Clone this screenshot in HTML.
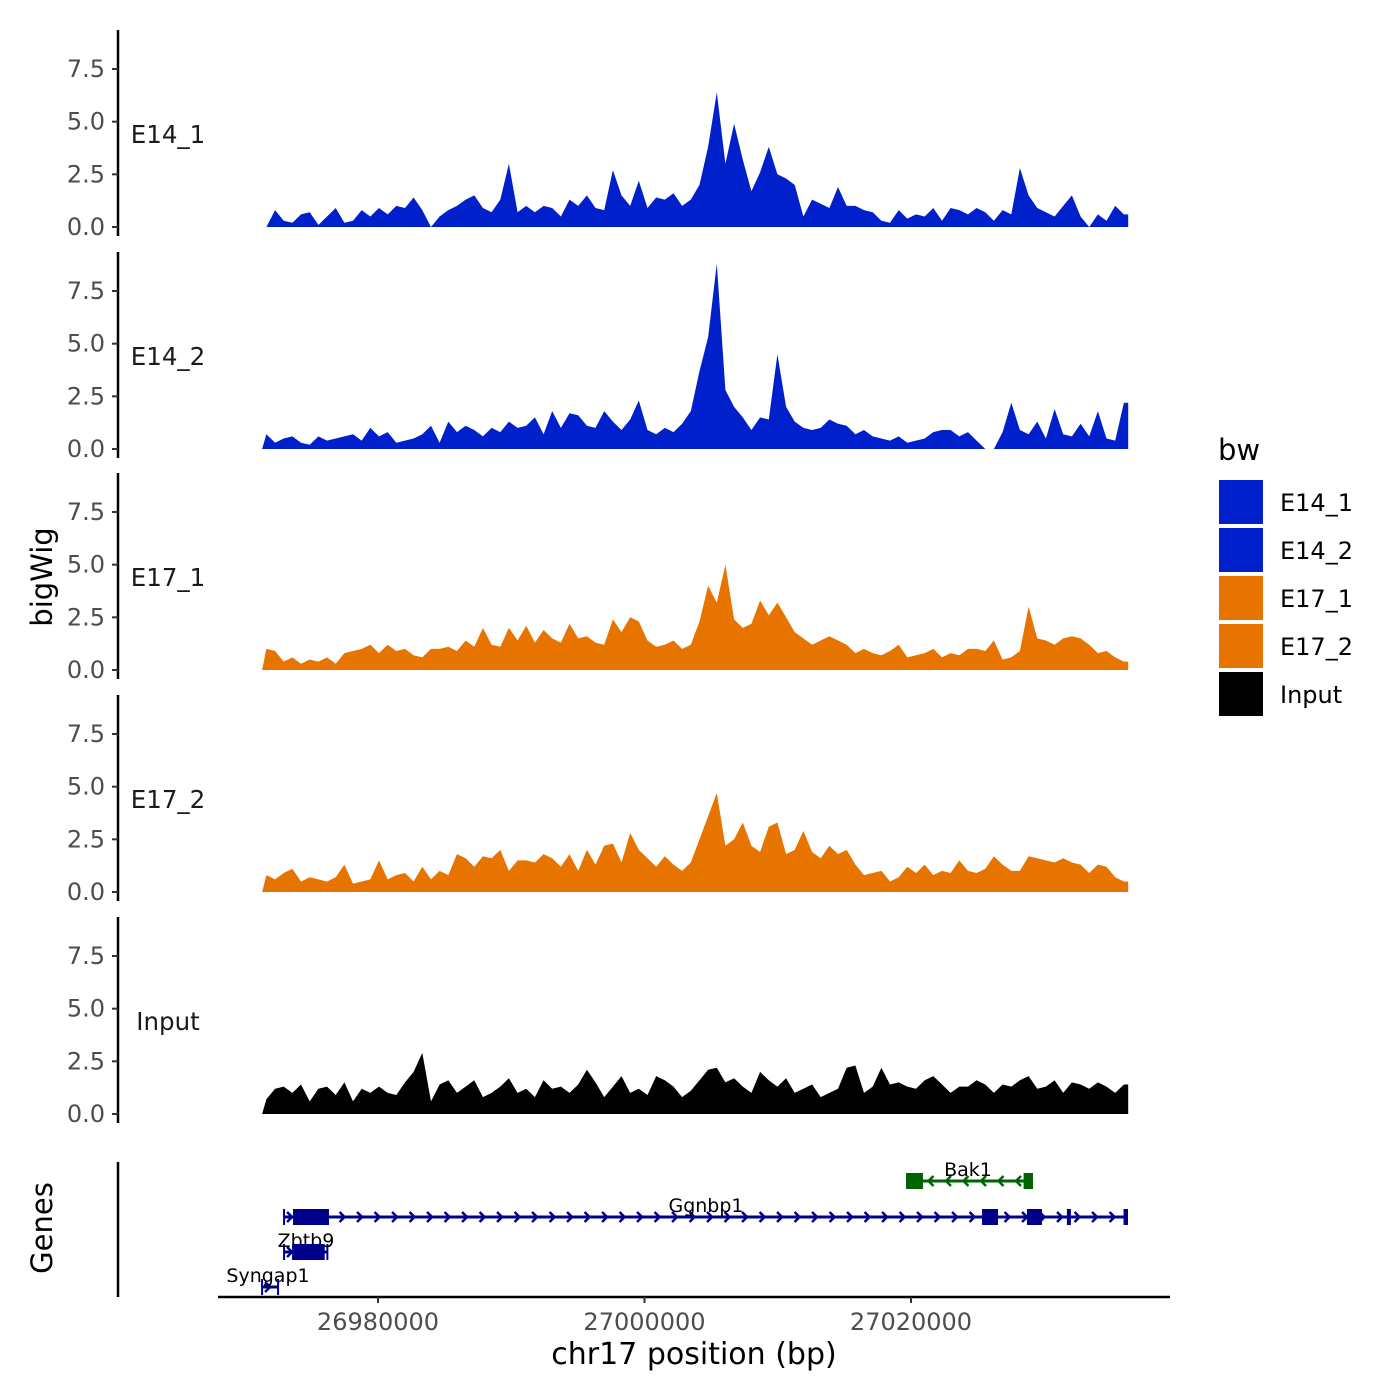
<!DOCTYPE html>
<html><head><meta charset="utf-8">
<style>
html,body{margin:0;padding:0;background:#fff;}
svg{display:block;font-family:"DejaVu Sans","Liberation Sans",sans-serif;}
</style></head>
<body>
<svg id="chart" width="1400" height="1400" viewBox="0 0 1400 1400" xmlns="http://www.w3.org/2000/svg">
<rect x="0" y="0" width="1400" height="1400" fill="#fff"/>
<g id="tracks"></g>
<g id="genes"></g>
<g id="xaxis"></g>
<text x="52" y="577" font-size="29" text-anchor="middle" transform="rotate(-90 52 577)" fill="#000">bigWig</text>
<text x="52" y="1228" font-size="29" text-anchor="middle" transform="rotate(-90 52 1228)" fill="#000">Genes</text>
<text x="694" y="1364" font-size="30" text-anchor="middle" fill="#000">chr17 position (bp)</text>
<g id="legend"></g>
</svg>
<script>
const trackNames = ["E14_1","E14_2","E17_1","E17_2","Input"];
const trackColors = ["#0020cc","#0020cc","#e87400","#e87400","#000000"];
const yTicks = [0, 2.5, 5.0, 7.5];
const yTickLabels = ["0.0","2.5","5.0","7.5"];
const xTicks = [26980000, 27000000, 27020000];
const xTickLabels = ["26980000","27000000","27020000"];
const binStart = 26971300;
const binSize = 650;
const e14_1 = [0,0.8,0.3,0.2,0.6,0.7,0.1,0.5,0.9,0.2, 0.3,0.8,0.5,0.9,0.6,1.0,0.9,1.4,0.8,0.0, 0.5,0.8,1.0,1.3,1.5,0.9,0.7,1.3,3.0,0.7, 1.0,0.7,1.0,0.9,0.5,1.3,1.0,1.5,0.9,0.8, 2.7,1.5,1.0,2.2,0.9,1.4,1.3,1.6,1.0,1.3, 2.0,3.8,6.4,3.0,4.9,3.2,1.7,2.6,3.8,2.5, 2.3,2.0,0.5,1.3,1.1,0.9,1.9,1.0,1.0,0.8, 0.7,0.3,0.2,0.8,0.4,0.6,0.5,0.9,0.3,0.9, 0.8,0.6,0.9,0.7,0.3,0.8,0.6,2.8,1.5,0.9, 0.7,0.5,1.0,1.5,0.5,0.0,0.6,0.3,1.0,0.6];
const e14_2 = [0.7,0.3,0.5,0.6,0.3,0.2,0.6,0.4,0.5,0.6, 0.7,0.4,1.0,0.6,0.8,0.3,0.4,0.5,0.7,1.1, 0.3,1.3,0.8,1.1,0.9,0.6,1.0,0.8,1.3,1.0, 1.1,1.5,0.7,1.8,1.0,1.7,1.6,1.1,1.0,1.8, 1.3,0.9,1.4,2.3,0.9,0.7,1.0,0.8,1.2,1.8, 3.7,5.3,8.8,2.8,2.0,1.5,0.9,1.5,1.4,4.5, 2.0,1.3,1.0,0.9,1.0,1.4,1.2,1.1,0.7,0.9, 0.6,0.5,0.4,0.6,0.3,0.4,0.5,0.8,0.9,0.9, 0.6,0.8,0.4,0.0,0.0,0.8,2.2,0.9,0.7,1.3, 0.5,1.9,0.7,0.6,1.2,0.6,1.8,0.5,0.4,2.2];
const e17_1 = [1.0,0.9,0.4,0.6,0.3,0.5,0.4,0.6,0.3,0.8, 0.9,1.0,1.2,0.8,1.2,0.9,1.0,0.7,0.6,1.0, 1.0,1.1,0.9,1.4,1.1,2.0,1.2,1.1,2.0,1.4, 2.1,1.3,1.9,1.5,1.3,2.2,1.5,1.6,1.3,1.2, 2.4,1.8,2.5,2.3,1.4,1.1,1.2,1.4,1.0,1.2, 2.3,4.0,3.2,5.0,2.4,2.0,2.2,3.3,2.6,3.2, 2.5,1.8,1.5,1.2,1.4,1.6,1.4,1.2,0.8,1.0, 0.8,0.7,0.9,1.2,0.6,0.7,0.8,1.0,0.6,0.8, 0.7,1.0,1.0,0.9,1.4,0.5,0.6,0.9,3.0,1.5, 1.4,1.2,1.5,1.6,1.5,1.2,0.8,0.9,0.6,0.4];
const e17_2 = [0.8,0.6,0.9,1.1,0.5,0.7,0.6,0.5,0.7,1.3, 0.4,0.5,0.6,1.5,0.6,0.8,0.9,0.5,1.2,0.6, 1.0,0.8,1.8,1.6,1.2,1.7,1.6,2.0,1.0,1.5, 1.5,1.4,1.8,1.6,1.2,1.8,1.0,2.0,1.3,2.2, 2.3,1.4,2.8,2.0,1.6,1.2,1.7,1.3,1.0,1.4, 2.5,3.6,4.7,2.2,2.5,3.3,2.2,1.9,3.1,3.3, 1.8,2.0,2.9,1.9,1.6,2.2,1.8,2.0,1.3,0.8, 0.9,1.0,0.5,0.7,1.2,0.9,1.3,0.8,1.0,0.9, 1.5,1.0,0.9,1.1,1.7,1.3,1.0,1.0,1.7,1.6, 1.5,1.4,1.6,1.4,1.3,0.9,1.3,1.2,0.7,0.5];
const inputSig = [0.7,1.2,1.3,1.0,1.4,0.6,1.2,1.3,0.9,1.5, 0.6,1.2,1.0,1.3,1.0,0.9,1.5,2.0,2.9,0.6, 1.4,1.6,1.0,1.3,1.6,0.8,1.0,1.3,1.7,1.0, 1.2,0.8,1.6,1.2,1.3,1.0,1.4,2.1,1.5,0.8, 1.3,1.8,1.0,1.2,0.9,1.8,1.6,1.3,0.8,1.1, 1.6,2.1,2.2,1.5,1.7,1.3,1.0,2.0,1.6,1.3, 1.7,1.0,1.2,1.4,0.8,1.0,1.2,2.2,2.3,1.0, 1.3,2.2,1.4,1.5,1.3,1.2,1.6,1.8,1.4,1.0, 1.3,1.3,1.6,1.4,1.0,1.4,1.3,1.6,1.8,1.2, 1.3,1.6,1.0,1.5,1.4,1.2,1.5,1.3,1.0,1.4];
const series = [e14_1, e14_2, e17_1, e17_2, inputSig];
const geneNames = ["Ggnbp1","Bak1","Zbtb9","Syngap1"];
const geneStarts = [26972950, 27019700, 26972950, 26971300];
const geneEnds = [27036210, 27029080, 26976200, 26972500];
const geneStrand = [1, -1, 1, 1];
const geneRow = [1, 0, 2, 3];
const geneColors = ["#00008b","#006400","#00008b","#00008b"];
const exonGene = [0,0,0,0,0, 1,1, 2];
const exonStarts = [26973620, 27025330, 27028700, 27031700, 27035950, 27019700, 27028450, 26973550];
const exonEnds = [26976320, 27026530, 27029830, 27032000, 27036210, 27020900, 27029080, 26976000];

const NS="http://www.w3.org/2000/svg";
function mk(tag, attrs, parent){const e=document.createElementNS(NS,tag);for(const k in attrs)e.setAttribute(k,attrs[k]);parent.appendChild(e);return e;}
const xScale = bp => 378 + (bp - 26980000) / 20000 * 266.5;
const panelZero = [227, 449, 670, 892, 1114];
const pxPerUnit = 158/7.5;
const yScale = (p, v) => panelZero[p] - v * pxPerUnit;

const tg=document.getElementById('tracks');
trackNames.forEach((name,p)=>{
  const g=mk('g',{},tg);
  
  
  const ax=mk('line',{x1:118,x2:118,y1:panelZero[p]-197,y2:panelZero[p]+9,stroke:'#000','stroke-width':2.5},g);
  
  
  yTicks.forEach((t,i)=>{
    const y=yScale(p,t);
    const tk=mk('line',{x1:112,x2:118,y1:y,y2:y,stroke:'#333','stroke-width':2},g);
    
    
    const tl=mk('text',{x:105,y:y+8,'font-size':24,'text-anchor':'end',fill:'#4d4d4d'},g);
    tl.textContent=yTickLabels[i];
    
    
  });
  const lab=mk('text',{x:168,y:panelZero[p]-84,'font-size':24.5,'text-anchor':'middle',fill:'#1a1a1a'},g);
  lab.textContent=name;
  
  
  const vals=series[p];
  let d='M'+xScale(binStart).toFixed(1)+','+panelZero[p];
  vals.forEach((v,i)=>{
    const x=xScale(binStart+(i+0.5)*binSize);
    d+=' L'+x.toFixed(1)+','+yScale(p,v).toFixed(1);
  });
  d+=' L'+xScale(binStart+vals.length*binSize).toFixed(1)+','+yScale(p,vals[vals.length-1]).toFixed(1);
  d+=' L'+xScale(binStart+vals.length*binSize).toFixed(1)+','+panelZero[p]+' Z';
  const area=mk('path',{d:d,fill:trackColors[p]},g);
  
  
});

const gg=document.getElementById('genes');
const gax=mk('line',{x1:118,x2:118,y1:1162,y2:1297,stroke:'#000','stroke-width':2.5},gg);


const rowY=[1181,1217,1252,1287];
geneNames.forEach((n,i)=>{
  const g=mk('g',{},gg);
  
  
  const y=rowY[geneRow[i]], x1=xScale(geneStarts[i]), x2=xScale(geneEnds[i]), c=geneColors[i];
  mk('line',{x1:x1,x2:x2,y1:y,y2:y,stroke:c,'stroke-width':3},g);
  mk('line',{x1:x1,x2:x1,y1:y-8,y2:y+8,stroke:c,'stroke-width':2},g);
  mk('line',{x1:x2,x2:x2,y1:y-8,y2:y+8,stroke:c,'stroke-width':2},g);
  for(let x=x1+6;x<x2-3;x+=17.5){
    const s=geneStrand[i];
    mk('polyline',{points:`${x-3*s},${y-5} ${x+2*s},${y} ${x-3*s},${y+5}`,fill:'none',stroke:c,'stroke-width':2.5},g);
  }
  const t=mk('text',{x:(n==='Syngap1'?268:n==='Zbtb9'?306:n==='Bak1'?968:706),y:y-5,'font-size':19,'text-anchor':'middle',fill:'#000'},g);
  t.textContent=n;
});
exonGene.forEach((gi,k)=>{
  const y=rowY[geneRow[gi]];
  const r=mk('rect',{x:xScale(exonStarts[k]),y:y-8,width:Math.max(2,xScale(exonEnds[k])-xScale(exonStarts[k])),height:16,fill:geneColors[gi]},gg);
  
  
});

const xg=document.getElementById('xaxis');
const xl=mk('line',{x1:218,x2:1170,y1:1297,y2:1297,stroke:'#000','stroke-width':2.5},xg);


xTicks.forEach((t,i)=>{
  const x=xScale(t);
  const tk=mk('line',{x1:x,x2:x,y1:1297,y2:1303,stroke:'#333','stroke-width':2},xg);
  
  
  const tl=mk('text',{x:x,y:1330,'font-size':24,'text-anchor':'middle',fill:'#4d4d4d'},xg);
  tl.textContent=xTickLabels[i];
  
  
});

const lg=document.getElementById('legend');
const lt=mk('text',{x:1218,y:460,'font-size':29,fill:'#000'},lg);
lt.textContent='bw';


trackNames.forEach((n,i)=>{
  const y=480+i*48;
  const r=mk('rect',{x:1219,y:y,width:44,height:44,fill:trackColors[i]},lg);
  
  
  const t=mk('text',{x:1280,y:y+31,'font-size':24,fill:'#000'},lg);
  t.textContent=n;
  
  
});
</script>
</body></html>
